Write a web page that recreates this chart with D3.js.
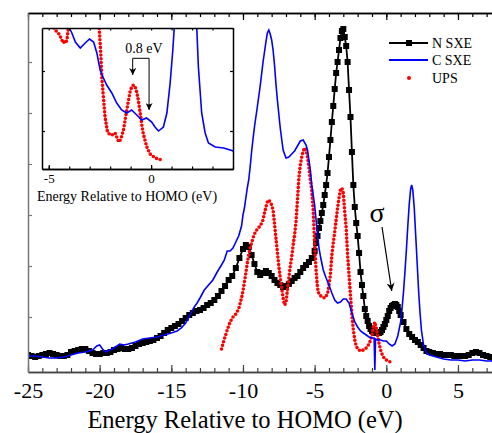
<!DOCTYPE html>
<html>
<head>
<meta charset="utf-8">
<script src="https://cdn.jsdelivr.net/npm/d3@7"></script>
<style>
  body { margin: 0; background: #fff; }
  svg text { font-family: "Liberation Serif", "Times New Roman", serif; }
</style>
</head>
<body>
<div id="wrapper"></div>
<script>
// energies in eV, intensities in arbitrary units
const nSxe = [
  [-25,17],[-24.75,16],[-24.5,15],[-24.25,16],[-24,17],[-23.75,18],[-23.5,19],[-23.25,18],[-23,17],[-22.75,16],
  [-22.5,16],[-22.25,17],[-22,20],[-21.75,21],[-21.5,22],[-21.25,23],[-21,23],[-20.75,21],[-20.5,19],[-20.25,18],
  [-20,18],[-19.75,19],[-19.5,19],[-19.25,20],[-19,22],[-18.75,23],[-18.5,24],[-18.25,23],[-18,23],[-17.75,24],
  [-17.5,26],[-17.25,28],[-17,29],[-16.75,30],[-16.5,31],[-16.25,32],[-16,34],[-15.75,36],[-15.5,39],[-15.25,42],
  [-15,44],[-14.75,46],[-14.5,48],[-14.25,51],[-14,54],[-13.75,57],[-13.5,59],[-13.25,61],[-13,62],[-12.75,64],
  [-12.5,67],[-12.25,69],[-12,72],[-11.75,76],[-11.5,81],[-11.25,86],[-11,92],[-10.75,96],[-10.5,104],[-10.25,114],
  [-10,123],[-9.8,127],[-9.6,125],[-9.4,117],[-9.2,108],[-9,100],[-8.8,97],[-8.6,99],[-8.4,101],[-8.2,99],
  [-8,96],[-7.8,92],[-7.6,89],[-7.4,87],[-7.2,85],[-7,86],[-6.8,88],[-6.6,91],[-6.4,94],[-6.2,96],
  [-6,100],[-5.8,104],[-5.6,107],[-5.4,110],[-5.2,114],[-5,121],[-4.9,129],[-4.8,136],[-4.7,144],[-4.6,151],
  [-4.5,159],[-4.4,167],[-4.3,177],[-4.2,187],[-4.1,199],[-4,215],[-3.9,232],[-3.8,250],[-3.7,266],[-3.6,283],
  [-3.5,299],[-3.4,310],[-3.3,322],[-3.2,334],[-3.1,341],[-3,343],[-2.9,335],[-2.8,326],[-2.7,310],[-2.6,282],
  [-2.5,255],[-2.4,220],[-2.3,187],[-2.2,165],[-2.1,149],[-2,136],[-1.9,119],[-1.8,100],[-1.7,87],[-1.6,76],
  [-1.5,63],[-1.4,56],[-1.3,51],[-1.2,46],[-1.1,43],[-1,41],[-0.9,40],[-0.8,39],[-0.7,39],[-0.6,39],
  [-0.5,39],[-0.4,40],[-0.3,42],[-0.2,45],[-0.1,48],[0,52],[0.1,56],[0.2,61],[0.3,64],[0.4,66],
  [0.5,67],[0.6,68],[0.7,67],[0.8,65],[0.9,61],[1,57],[1.2,50],[1.4,43],[1.6,38],[1.8,35],
  [2,32],[2.2,30],[2.4,27],[2.6,24],[2.8,21],[3,20],[3.25,19],[3.5,18],[3.75,18],[4,17],
  [4.25,17],[4.5,17],[4.75,16],[5,16],[5.25,16],[5.5,16],[5.75,17],[6,19],[6.25,20],[6.5,19],
  [6.75,17],[7,16],[7.25,15],[7.5,14]
]

const cSxe = [
  [-25,16],[-24.5,16],[-24,15],[-23.5,14],[-23,14],[-22.5,15],[-22,17],[-21.5,19],[-21,20],[-20.5,22],
  [-20.2,26],[-20,27],[-19.8,23],[-19.6,20],[-19.3,22],[-19,24],[-18.6,28],[-18.3,27],[-18,28],[-17.5,30],
  [-17,33],[-16.5,34],[-16,35],[-15.5,37],[-15,39],[-14.6,41],[-14.3,44],[-14,49],[-13.8,54],[-13.6,60],
  [-13.4,65],[-13.2,69],[-13,74],[-12.7,82],[-12.4,87],[-12.1,92],[-11.8,100],[-11.5,107],[-11.3,112],[-11.1,121],
  [-10.9,121],[-10.7,124],[-10.5,130],[-10.3,136],[-10.1,146],[-10,157],[-9.9,164],[-9.8,174],[-9.7,184],[-9.6,192],
  [-9.5,205],[-9.4,220],[-9.3,233],[-9.2,245],[-9,265],[-8.8,286],[-8.6,310],[-8.5,320],[-8.4,330],[-8.3,339],
  [-8.2,342],[-8.1,338],[-8,332],[-7.9,322],[-7.8,307],[-7.7,288],[-7.6,272],[-7.4,244],[-7.2,222],[-7,214],
  [-6.8,215],[-6.6,218],[-6.4,221],[-6.2,226],[-6,231],[-5.8,232],[-5.6,227],[-5.5,222],[-5.4,212],[-5.3,202],
  [-5.2,187],[-5,167],[-4.9,152],[-4.8,137],[-4.7,124],[-4.6,116],[-4.4,102],[-4.2,94],[-4,87],[-3.8,79],
  [-3.6,72],[-3.4,69],[-3.2,70],[-3,73],[-2.8,73],[-2.6,69],[-2.4,59],[-2.2,50],[-2,45],[-1.8,41],
  [-1.6,39],[-1.4,37],[-1.2,35],[-1,34],[-0.85,34],[-0.8,2],[-0.75,33],[-0.6,32],[-0.4,32],[-0.2,31],
  [0,31],[0.2,28],[0.4,26],[0.6,28],[0.8,36],[1,50],[1.1,64],[1.2,80],[1.3,100],[1.4,122],
  [1.5,146],[1.6,168],[1.7,183],[1.77,187],[1.85,182],[1.95,164],[2.05,137],[2.15,110],[2.25,82],[2.35,60],
  [2.45,42],[2.6,27],[2.8,19],[3,17],[3.5,15],[4,13],[4.5,12],[5,12],[5.5,11],[6,12],
  [6.5,12],[7,11],[7.5,11]
]

const ups = [
  [-11.5,23],[-11.3,33],[-11.1,42],[-10.9,50],[-10.7,55],[-10.5,58],[-10.3,63],[-10.1,74],[-10,81],[-9.9,90],
  [-9.8,99],[-9.7,109],[-9.6,117],[-9.5,124],[-9.4,129],[-9.3,134],[-9.2,138],[-9,143],[-8.8,146],[-8.6,152],
  [-8.5,159],[-8.4,165],[-8.3,170],[-8.2,172],[-8.1,170],[-8,167],[-7.9,162],[-7.8,148],[-7.7,134],[-7.6,120],
  [-7.5,106],[-7.4,94],[-7.3,84],[-7.2,74],[-7.1,67],[-7,69],[-6.9,82],[-6.8,94],[-6.7,106],[-6.6,115],
  [-6.5,127],[-6.4,137],[-6.3,150],[-6.2,172],[-6.1,194],[-6,207],[-5.9,215],[-5.8,221],[-5.7,224],[-5.6,222],
  [-5.5,215],[-5.4,205],[-5.3,192],[-5.2,182],[-5.1,162],[-5,127],[-4.9,102],[-4.8,84],[-4.7,78],[-4.5,75],
  [-4.3,74],[-4.1,78],[-4,87],[-3.9,97],[-3.8,117],[-3.7,129],[-3.6,140],[-3.5,152],[-3.4,164],[-3.3,174],
  [-3.2,182],[-3.1,184],[-3,179],[-2.9,160],[-2.8,144],[-2.7,117],[-2.6,97],[-2.5,77],[-2.4,57],[-2.3,42],
  [-2.2,32],[-2.1,26],[-2,23],[-1.8,21],[-1.6,22],[-1.4,24],[-1.2,28],[-1.1,32],[-1,37],[-0.9,45],
  [-0.8,50],[-0.7,44],[-0.6,36],[-0.5,28],[-0.4,22],[-0.3,18],[-0.2,15],[-0.1,13],[0.1,11],[0.3,10],
  [0.5,10]
]

// inset (close-up near HOMO), own intensity units
const insetCSxe = [
  [-4.1,145],[-3.87,136],[-3.7,127],[-3.46,121],[-3.22,126],[-3.01,130],[-2.81,127],[-2.65,116],[-2.49,99],[-2.33,91],
  [-2.17,84],[-1.92,76],[-1.68,66],[-1.44,59],[-1.19,56],[-0.95,59],[-0.7,54],[-0.46,49],[-0.22,51],[0.03,47],
  [0.19,42],[0.36,38],[0.6,42],[0.77,56],[0.93,86],[1.06,119],[1.13,141],[1.3,190],[2.1,190],[2.23,141],
  [2.31,102],[2.47,56],[2.64,36],[2.8,26],[3.13,22],[3.54,21],[4.03,18]
]

const insetUps = [
  [-4.75,141],[-4.6,137],[-4.5,135],[-4.4,131],[-4.3,126],[-4.2,128],[-4.15,127],[-4.1,131],[-4.04,141],[-3.9,220],
  [-2.65,220],[-2.53,139],[-2.46,116],[-2.41,92],[-2.33,72],[-2.25,52],[-2.13,37],[-2,34],[-1.92,34],[-1.76,36],
  [-1.6,28],[-1.55,27],[-1.45,32],[-1.35,39],[-1.19,59],[-1.03,77],[-0.95,82],[-0.87,84],[-0.78,82],[-0.7,77],
  [-0.62,68],[-0.54,57],[-0.46,45],[-0.38,35],[-0.21,22],[-0.05,15],[0.2,11],[0.52,9]
]

const xMajor = [-25, -20, -15, -10, -5, 0, 5]
const xMinor = d3.range(-25, 8, 1)
const yTicks = [55, 106, 157, 208, 259, 310]
const insetXMajor = [-5, 0]
const insetXMinor = [-5, -4, -3, -2, -1, 0, 1, 2, 3, 4]
const insetYTicks = [38, 98]
const legendLabels = ["N SXE", "C SXE", "UPS"]

const serif = '"Liberation Serif", "Times New Roman", serif'
const width = 492, height = 433

const svg = d3.select("#wrapper")
  .append("svg")
    .attr("width", width)
    .attr("height", height)
svg.append("rect").attr("width", width).attr("height", height).attr("fill", "#fff")

const xScale = d3.scaleLinear().domain([-25, 7.5]).range([28, 493.8])
const yScale = d3.scaleLinear().domain([0, 359]).range([372, 13])

const defs = svg.append("defs")
defs.append("clipPath").attr("id", "mainClip")
  .append("rect").attr("x", 28).attr("y", 13).attr("width", 466).attr("height", 359)

const lineGen = d3.line()
  .x(d => xScale(d[0]))
  .y(d => yScale(d[1]))

const plot = svg.append("g").attr("clip-path", "url(#mainClip)")

// N SXE: line with square markers
plot.append("path")
  .attr("d", lineGen(nSxe))
  .attr("fill", "none")
  .attr("stroke", "black")
  .attr("stroke-width", 1.8)
plot.append("g").selectAll("rect")
  .data(nSxe)
  .join("rect")
    .attr("x", d => xScale(d[0]) - 3)
    .attr("y", d => yScale(d[1]) - 3)
    .attr("width", 6)
    .attr("height", 6)
    .attr("fill", "black")

// UPS: red dots
plot.append("path")
  .attr("d", lineGen(ups))
  .attr("fill", "none")
  .attr("stroke", "#ff0000")
  .attr("stroke-width", 3.6)
  .attr("stroke-linecap", "round")
  .attr("stroke-dasharray", "0 3.8")

// C SXE: blue line
plot.append("path")
  .attr("d", lineGen(cSxe))
  .attr("fill", "none")
  .attr("stroke", "#0000ff")
  .attr("stroke-width", 1.6)

// axes
const styleAxis = (g, color) => {
  g.selectAll("path.domain").attr("stroke", color).attr("stroke-width", 1.5)
  g.selectAll(".tick line").attr("stroke", color).attr("stroke-width", 1.2)
}

svg.append("g")
  .attr("transform", "translate(0,372)")
  .call(d3.axisBottom(xScale).tickValues(xMinor).tickSize(-4).tickSizeOuter(0).tickFormat(""))
  .call(g => styleAxis(g, "#444"))
const xAxis = svg.append("g")
  .attr("transform", "translate(0,372)")
  .call(d3.axisBottom(xScale).tickValues(xMajor).tickSize(-7).tickSizeOuter(0)
    .tickPadding(10).tickFormat(d => String(d)))
  .call(g => styleAxis(g, "#444"))
xAxis.selectAll("text").attr("font-size", 22).attr("font-family", serif).attr("fill", "black")

svg.append("g")
  .attr("transform", "translate(0,13)")
  .call(d3.axisTop(xScale).tickValues(xMinor).tickSize(-4).tickSizeOuter(0).tickFormat(""))
  .call(g => styleAxis(g, "black"))
svg.append("g")
  .attr("transform", "translate(0,13)")
  .call(d3.axisTop(xScale).tickValues(xMajor).tickSize(-7).tickSizeOuter(0).tickFormat(""))
  .call(g => styleAxis(g, "black"))

svg.append("g")
  .attr("transform", "translate(28,0)")
  .call(d3.axisLeft(yScale).tickValues(yTicks).tickSize(-4).tickSizeOuter(0).tickFormat(""))
  .call(g => styleAxis(g, "#777"))

svg.append("text")
  .attr("x", 245)
  .attr("y", 428)
  .attr("text-anchor", "middle")
  .attr("font-size", 24.5)
  .text("Energy Relative to HOMO (eV)")

// sigma annotation
svg.append("text")
  .attr("x", xScale(-0.65))
  .attr("y", yScale(150))
  .attr("text-anchor", "middle")
  .attr("font-size", 28)
  .text("σ")

defs.append("marker")
  .attr("id", "arrow")
  .attr("viewBox", "0 0 10 10")
  .attr("refX", 10).attr("refY", 5)
  .attr("markerWidth", 8).attr("markerHeight", 8)
  .attr("markerUnits", "userSpaceOnUse")
  .attr("orient", "auto")
  .append("path").attr("d", "M0,0 L10,5 L0,10 L3,5 Z").attr("fill", "black")

svg.append("line")
  .attr("x1", xScale(-0.3)).attr("y1", yScale(145))
  .attr("x2", xScale(0.38)).attr("y2", yScale(81))
  .attr("stroke", "black").attr("stroke-width", 1.2)
  .attr("marker-end", "url(#arrow)")

// legend
const legend = svg.append("g").attr("transform", "translate(389,0)")
const legendY = [43, 60, 78]
legend.append("line").attr("x1", 0).attr("x2", 39).attr("y1", legendY[0]).attr("y2", legendY[0])
  .attr("stroke", "black").attr("stroke-width", 1.8)
legend.append("rect").attr("x", 17).attr("y", legendY[0] - 3).attr("width", 6).attr("height", 6).attr("fill", "black")
legend.append("line").attr("x1", 0).attr("x2", 39).attr("y1", legendY[1]).attr("y2", legendY[1])
  .attr("stroke", "#0000ff").attr("stroke-width", 1.8)
legend.append("circle").attr("cx", 20).attr("cy", legendY[2]).attr("r", 2).attr("fill", "#ff0000")
legend.selectAll("text.lab")
  .data(legendLabels)
  .join("text")
    .attr("class", "lab")
    .attr("x", 43)
    .attr("y", (d, i) => legendY[i] + 5)
    .attr("font-size", 14)
    .text(d => d)

// inset
const ix = d3.scaleLinear().domain([-5.33, 4.0]).range([42, 233])
const iy = d3.scaleLinear().domain([0, 141]).range([169, 28])

svg.append("rect")
  .attr("x", 42).attr("y", 28).attr("width", 191).attr("height", 141)
  .attr("fill", "white")
defs.append("clipPath").attr("id", "insetClip")
  .append("rect").attr("x", 42).attr("y", 28).attr("width", 191).attr("height", 141)

const iLine = d3.line().x(d => ix(d[0])).y(d => iy(d[1]))
const inset = svg.append("g").attr("clip-path", "url(#insetClip)")
inset.append("path")
  .attr("d", iLine(insetUps))
  .attr("fill", "none")
  .attr("stroke", "#ff0000")
  .attr("stroke-width", 3.6)
  .attr("stroke-linecap", "round")
  .attr("stroke-dasharray", "0 3.8")
inset.append("path")
  .attr("d", iLine(insetCSxe))
  .attr("fill", "none")
  .attr("stroke", "#0000ff")
  .attr("stroke-width", 1.6)

const insetX = svg.append("g")
  .attr("transform", "translate(0,169)")
  .call(d3.axisBottom(ix).tickValues(insetXMajor).tickSize(-4).tickSizeOuter(0)
    .tickPadding(5).tickFormat(d => String(d)))
  .call(g => styleAxis(g, "black"))
insetX.selectAll("text").attr("font-size", 13).attr("font-family", serif).attr("fill", "black")
svg.append("g")
  .attr("transform", "translate(0,169)")
  .call(d3.axisBottom(ix).tickValues(insetXMinor).tickSize(-2.5).tickSizeOuter(0).tickFormat(""))
  .call(g => styleAxis(g, "black"))
svg.append("g")
  .attr("transform", "translate(0,28)")
  .call(d3.axisTop(ix).tickValues(insetXMinor).tickSize(-2.5).tickSizeOuter(0).tickFormat(""))
  .call(g => styleAxis(g, "black"))
svg.append("g")
  .attr("transform", "translate(42,0)")
  .call(d3.axisLeft(iy).tickValues(insetYTicks).tickSize(-3).tickSizeOuter(0).tickFormat(""))
  .call(g => styleAxis(g, "black"))
svg.append("g")
  .attr("transform", "translate(233,0)")
  .call(d3.axisRight(iy).tickValues(insetYTicks).tickSize(-3).tickSizeOuter(0).tickFormat(""))
  .call(g => styleAxis(g, "black"))

svg.append("text")
  .attr("x", 127)
  .attr("y", 201)
  .attr("text-anchor", "middle")
  .attr("font-size", 14)
  .text("Energy Relative to HOMO (eV)")

// 0.8 eV bracket
const bracketY = iy(110.7)
svg.append("path")
  .attr("d", `M${ix(-0.9)},${iy(94) - 1} V${bracketY} H${ix(-0.1)} V${iy(59) - 1}`)
  .attr("fill", "none")
  .attr("stroke", "black")
  .attr("stroke-width", 1)
defs.append("marker")
  .attr("id", "arrowSmall")
  .attr("viewBox", "0 0 10 10")
  .attr("refX", 10).attr("refY", 5)
  .attr("markerWidth", 7).attr("markerHeight", 7)
  .attr("markerUnits", "userSpaceOnUse")
  .attr("orient", "auto")
  .append("path").attr("d", "M0,0 L10,5 L0,10 L3,5 Z").attr("fill", "black")
svg.append("line")
  .attr("x1", ix(-0.9)).attr("y1", iy(100))
  .attr("x2", ix(-0.9)).attr("y2", iy(94))
  .attr("stroke", "black").attr("marker-end", "url(#arrowSmall)")
svg.append("line")
  .attr("x1", ix(-0.1)).attr("y1", iy(65))
  .attr("x2", ix(-0.1)).attr("y2", iy(59))
  .attr("stroke", "black").attr("marker-end", "url(#arrowSmall)")
svg.append("text")
  .attr("x", ix(-0.35))
  .attr("y", 53)
  .attr("text-anchor", "middle")
  .attr("font-size", 14)
  .text("0.8 eV")
</script>
</body>
</html>
